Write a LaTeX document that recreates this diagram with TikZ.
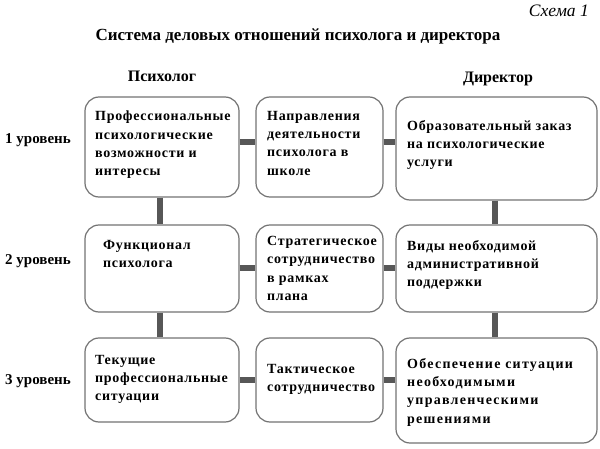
\documentclass[tikz,border=0pt]{standalone}
\usepackage{fontspec}
\setmainfont{Liberation Serif}
\newfontfamily\boxfont[LetterSpace=5]{Liberation Serif}
\newfontfamily\wideboxfont[LetterSpace=9]{Liberation Serif}
\begin{document}
\begin{tikzpicture}[x=1pt,y=-1pt,
  box/.style={draw=black!55, line width=1.2pt, rounded corners=14pt, fill=white, inner sep=0pt},
  conn/.style={draw=black!66, line width=6pt},
  btext/.style={anchor=north west, inner sep=0pt, align=left,
    font=\boxfont\bfseries\fontsize{14}{18.3}\selectfont},
  wbtext/.style={btext, font=\wideboxfont\bfseries\fontsize{14}{18.3}\selectfont},
  lvl/.style={anchor=west, inner sep=0pt, font=\bfseries\fontsize{15}{17}\selectfont},
  head/.style={inner sep=0pt, font=\bfseries\fontsize{16}{18}\selectfont}]
\useasboundingbox (0,0) rectangle (600,449);
% boxes
\node[box, minimum width=154pt, minimum height=100pt] (A1) at (162,147) {};
\node[box, minimum width=127pt, minimum height=100pt] (B1) at (319.5,147) {};
\node[box, minimum width=201pt, minimum height=103pt] (C1) at (496.5,148.5) {};
\node[box, minimum width=154pt, minimum height=87pt] (A2) at (162,268.5) {};
\node[box, minimum width=127pt, minimum height=87pt] (B2) at (319.5,268.5) {};
\node[box, minimum width=201pt, minimum height=87pt] (C2) at (496.5,268.5) {};
\node[box, minimum width=154pt, minimum height=84pt] (A3) at (162,380) {};
\node[box, minimum width=127pt, minimum height=84pt] (B3) at (319.5,380) {};
\node[box, minimum width=201pt, minimum height=105pt] (C3) at (496.5,390.5) {};
% connectors
\draw[conn] ([yshift=5pt]A1.east) -- ([yshift=5pt]B1.west);
\draw[conn] ([yshift=5pt]B1.east) coordinate (p1) -- (p1 -| C1.west);
\draw[conn] (A2.east) -- (B2.west);
\draw[conn] (B2.east) -- (C2.west);
\draw[conn] (A3.east) -- (B3.west);
\draw[conn] (B3.east) coordinate (p3) -- (p3 -| C3.west);
\draw[conn] ([xshift=-2pt]A1.south) -- ([xshift=-2pt]A2.north);
\draw[conn] ([xshift=-2pt]A2.south) -- ([xshift=-2pt]A3.north);
\draw[conn] ([xshift=-2pt]C1.south) -- ([xshift=-2pt]C2.north);
\draw[conn] ([xshift=-2pt]C2.south) -- ([xshift=-2pt]C3.north);
% box texts
\node[btext] (tA1) at (95,111) {Профессиональные\\психологические\\возможности и\\интересы};
\node[btext] (tB1) at (267,111) {Направления\\деятельности\\психолога в\\школе};
\node[btext] (tC1) at (407,120) {Образовательный заказ\\на психологические\\услуги};
\node[btext] (tA2) at (103,240) {Функционал\\психолога};
\node[btext] (tB2) at (267,236) {Стратегическое\\сотрудничество\\в рамках\\плана};
\node[btext] (tC2) at (407,240) {Виды необходимой\\административной\\поддержки};
\node[btext] (tA3) at (95,355) {Текущие\\профессиональные\\ситуации};
\node[btext] (tB3) at (267,364) {Тактическое\\сотрудничество};
\node[wbtext] (tC3) at (407,358) {Обеспечение ситуации\\необходимыми\\управленческими\\решениями};
% labels
\node[lvl] (L1) at (5,140) {1 уровень};
\node[lvl] (L2) at (5,261) {2 уровень};
\node[lvl] (L3) at (5,381) {3 уровень};
\node[head] (hP) at (162,76) {Психолог};
\node[head] (hD) at (498,79) {Директор};
\node[inner sep=0pt, font=\bfseries\fontsize{17}{19}\selectfont] (title) at (298,36) {Система деловых отношений психолога и директора};
\node[inner sep=0pt, anchor=east, font=\itshape\fontsize{17.5}{20}\selectfont] (schema) at (589,11) {Схема 1};
\end{tikzpicture}
\end{document}
